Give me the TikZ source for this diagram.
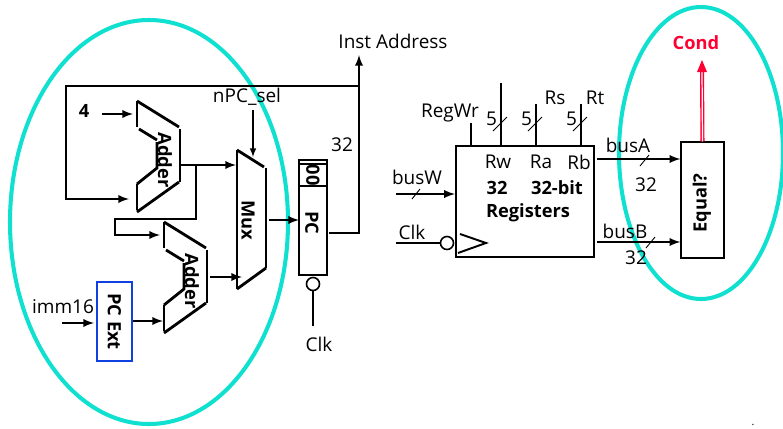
\documentclass[tikz,border=0pt]{standalone}
\usepackage{fontspec}
\setmainfont{Open Sans}
\definecolor{ringcol}{HTML}{0FE0CF}
\definecolor{extcol}{HTML}{1040E0}
\definecolor{condcol}{HTML}{FF0033}
\tikzset{
	lbl/.style={font=\fontsize{10.8}{12}\selectfont, inner sep=0},
	blbl/.style={font=\fontsize{10.4}{12}\selectfont\bfseries, inner sep=0},
	wire/.style={line width=1.1pt},
	fat/.style={line width=1.6pt},
	ring/.style={ringcol, line width=2.3pt},
	slash/.style={line width=.5pt},
	inv/.style={draw, circle, line width=.9pt, minimum size=.26cm, inner sep=0},
	adder/.pic={
		\draw[fat] (0,0)--(0,-.52);
		\draw[fat] (0,0)--(.84,-.52);
		\draw[fat] (.86,-.56)--(.86,-1.62);
		\draw[fat] (.84,-1.62)--(0,-2.22);
		\draw[fat] (0,-1.66)--(0,-2.18);
		\draw[fat] (.04,-.56)--(.40,-.78);
		\draw[fat] (.40,-.82)--(.40,-1.34)--(0,-1.66);
		\node[blbl, rotate=-90] (-name) at (.56,-1.18){Adder};
	}
}
\begin{document}
\begin{tikzpicture}
			\useasboundingbox (0,0) rectangle (15.66,8.56);
			\draw[ring] (2.98,4.12) ellipse (2.78 and 4.04);
			\draw[ring] (14.02,5.50) ellipse (1.64 and 2.92);
			%%%%%%%%%%%%%%%%%%%%%%%%%%%%%%%%
			\pic (addA) at (2.74,6.54) {adder};
			\pic (addB) at (3.28,4.12) {adder};
			\node[draw=extcol, line width=1.2pt, rotate=-90, minimum width=1.58cm, minimum height=.70cm, inner sep=0, font=\fontsize{10.4}{12}\selectfont\bfseries] (pcext) at (2.29,2.13){PC Ext};
			\node[draw, line width=1.2pt, minimum width=.56cm, minimum height=2.30cm] (pcreg) at (6.26,4.21){};
			\node[inv] (pcclk) at (6.26,2.88){};
			\node[draw, line width=1.2pt, minimum width=2.76cm, minimum height=2.22cm] (regs) at (10.50,4.53){};
			\node[inv] (regclk) at (8.94,3.70){};
			\node[draw, line width=.7pt, minimum width=.86cm, minimum height=2.32cm] (eqbox) at (14.05,4.56){};
			%%%%%%%%%%%%%%%%%%%%%%%%%%%%%%%%
			\coordinate (muxTL) at (4.74,5.56);
			\coordinate (muxTR) at (5.32,5.20);
			\coordinate (muxBR) at (5.32,3.20);
			\coordinate (muxBL) at (4.74,2.78);
			\draw[wire] (muxTL)--(muxBL);
			\draw[fat] (muxTL)--(5.28,5.22);
			\draw[fat] (muxTR)--(muxBR);
			\draw[fat] (muxBR)--(muxBL);
			\node[blbl, rotate=-90] (muxlbl) at (4.96,4.16){Mux};
			%%%%%%%%%%%%%%%%%%%%%%%%%%%%%%%%
			\node[blbl] (four) at (1.68,6.34){4};
			\node[lbl] (imm) at (1.26,2.42){imm16};
			\node[lbl] (sel) at (4.94,6.62){nPC\_sel};
			\node[lbl] (pcw) at (6.84,5.66){32};
			\node[lbl] (inst) at (7.86,7.74){Inst Address};
			\node[lbl] (clkA) at (6.38,1.68){Clk};
			\node[blbl, rotate=-90] (pclbl) at (6.24,4.10){PC};
			\node[blbl, rotate=-90] (oolbl) at (6.26,5.06){00};
			\draw[wire] (pcreg.west |- 0,4.84)--(pcreg.east |- 0,4.84);
			\draw[line width=.6pt] (pcreg.west |- 0,5.28)--(pcreg.east |- 0,5.28);
			%%%%%%%%%%%%%%%%%%%%%%%%%%%%%%%%
			\coordinate (fourEnd) at (2.04,6.28);
			\coordinate (addAa) at (2.66,6.28);
			\coordinate (addAb) at (2.58,4.58);
			\coordinate (addAout) at (3.60,5.26);
			\coordinate (addBa) at (3.20,3.86);
			\coordinate (addBb) at (3.26,2.14);
			\coordinate (addBout) at (4.20,3.02);
			\coordinate (muxA) at (4.72,5.26);
			\coordinate (muxB) at (4.84,3.02);
			\coordinate (muxS) at (5.06,5.42);
			\coordinate (selEnd) at (5.06,6.36);
			\coordinate (muxOut) at (5.38,4.16);
			\coordinate (pcIn) at (5.98,4.16);
			\coordinate (pcOut) at (6.58,3.90);
			\coordinate (pcTurn) at (7.18,3.90);
			\coordinate (instEnd) at (7.18,7.46);
			\coordinate (loopR) at (7.18,6.84);
			\coordinate (loopL) at (1.32,6.84);
			\coordinate (loopD) at (1.32,4.58);
			\coordinate (brA) at (3.92,5.26);
			\coordinate (brB) at (3.92,4.18);
			\coordinate (brC) at (2.30,4.18);
			\coordinate (brD) at (2.30,3.86);
			\coordinate (extIn) at (1.88,2.10);
			\coordinate (immEnd) at (1.24,2.10);
			\coordinate (extOut) at (2.66,2.14);
			\coordinate (clkEnd) at (6.26,2.04);
			%%%%%%%%%%%%%%%%%%%%%%%%%%%%%%%%
			\draw[wire, -latex] (fourEnd)--(addAa);
			\draw[wire, -latex] (loopR)--(loopL)--(loopD)--(addAb);
			\draw[wire, -latex] (addAout)--(muxA);
			\draw[wire, -latex] (brA)--(brB)--(brC)--(brD)--(addBa);
			\draw[wire, -latex] (immEnd)--(extIn);
			\draw[wire, -latex] (extOut)--(addBb);
			\draw[wire, -latex] (addBout)--(muxB);
			\draw[line width=.7pt, -latex] (selEnd)--(muxS);
			\draw[wire, -latex] (muxOut)--(pcIn);
			\draw[wire, -latex] (pcOut)--(pcTurn)--(instEnd);
			\draw[fat] (pcclk.south)--(clkEnd);
			%%%%%%%%%%%%%%%%%%%%%%%%%%%%%%%%
			\coordinate (wrTop) at (9.42,6.10);
			\node[lbl] (wrlbl) at (9.00,6.30){RegWr};
			\draw[wire] (wrTop)--(wrTop |- regs.north);
			\foreach \nm/\x/\ytop in {Rw/10.02/6.90, Ra/10.72/6.48, Rb/11.62/6.48}{
				\coordinate (top\nm) at (\x,\ytop);
				\draw[fat] (top\nm)--(top\nm |- regs.north);
				\draw[slash] ({\x-.16},5.94)--({\x+.12},6.22);
				\node[lbl] (five\nm) at ({\x-.19},6.18){5};
			}
			\node[lbl] (rs) at (11.10,6.60){Rs};
			\node[lbl] (rt) at (11.90,6.60){Rt};
			\node[lbl] (rw) at (9.96,5.32){Rw};
			\node[lbl] (ra) at (10.82,5.32){Ra};
			\node[lbl] (rb) at (11.58,5.32){Rb};
			\node[blbl] (regA) at (9.94,4.80){32};
			\node[blbl] (regB) at (11.14,4.80){32-bit};
			\node[blbl] (regC) at (10.56,4.30){Registers};
			%%%%%%%%%%%%%%%%%%%%%%%%%%%%%%%%
			\node[lbl] (busw) at (8.34,5.02){busW};
			\coordinate (buswEnd) at (7.92,4.68);
			\draw[wire, -latex] (buswEnd)--(buswEnd -| regs.west);
			\draw[slash] (8.24,4.58)--(8.40,4.78);
			\node[lbl] (clkB) at (8.24,3.92){Clk};
			\coordinate (clkBEnd) at (7.92,3.70);
			\draw[fat] (clkBEnd)--(regclk.west);
			\draw[wire] (9.20,3.88)--(9.72,3.70)--(9.16,3.50);
			%%%%%%%%%%%%%%%%%%%%%%%%%%%%%%%%
			\node[lbl] (busa) at (12.56,5.66){busA};
			\coordinate (busaSt) at (11.94,5.38);
			\draw[wire, -latex] (busaSt)--(busaSt -| eqbox.west);
			\draw[slash] (12.80,5.24)--(12.98,5.46);
			\node[lbl] (wa) at (12.92,4.86){32};
			\node[lbl] (busb) at (12.50,3.94){busB};
			\coordinate (busbSt) at (11.94,3.72);
			\draw[wire, -latex] (busbSt)--(busbSt -| eqbox.west);
			\draw[slash] (12.92,3.60)--(13.10,3.82);
			\node[lbl] (wb) at (12.72,3.40){32};
			\node[blbl, rotate=90] (eqlbl) at (14.04,4.50){Equal?};
			%%%%%%%%%%%%%%%%%%%%%%%%%%%%%%%%
			\node[blbl, text=condcol] (cond) at (13.92,7.70){Cond};
			\coordinate (condEnd) at (14.04,7.36);
			\draw[condcol, line width=.8pt, double=white, double distance=.7pt] (eqbox.north)--(14.04,7.20);
			\fill[condcol] (13.94,7.12)--(condEnd)--(14.14,7.12)--cycle;
			\node[inner sep=0, font=\fontsize{6}{6}\selectfont] (spot) at (15.06,.07){.};
		\end{tikzpicture}
\end{document}
